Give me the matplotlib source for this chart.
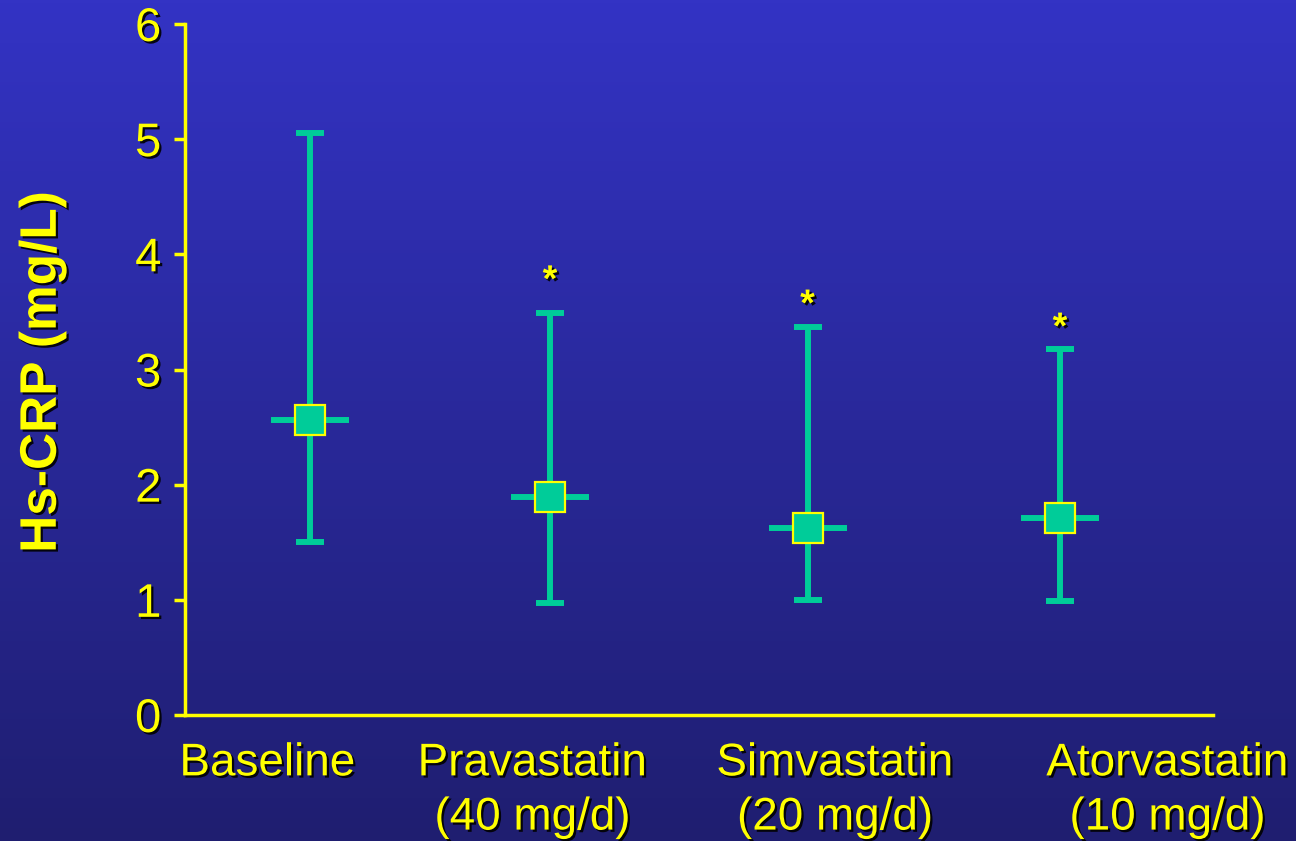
import matplotlib
matplotlib.use('Agg')
import matplotlib.pyplot as plt
import matplotlib.patheffects as pe
import numpy as np

# Hs-CRP (mg/L) per treatment: median with lower / upper range
groups = ['Baseline', 'Pravastatin', 'Simvastatin', 'Atorvastatin']
tick_labels = ['Baseline', 'Pravastatin\n(40 mg/d)', 'Simvastatin\n(20 mg/d)', 'Atorvastatin\n(10 mg/d)']
median = [2.56, 1.89, 1.62, 1.71]
lower = [1.50, 0.97, 1.00, 0.99]
upper = [5.05, 3.49, 3.37, 3.18]
signif = [False, True, True, True]
star_y = [0.0, 3.85, 3.64, 3.44]

xpos = [1.0, 1.96, 2.99, 4.0]
label_pos = [0.83, 1.89, 3.1, 4.43]

yellow = '#ffff00'
green = '#00cc99'
shadow = [pe.withSimplePatchShadow(offset=(1.6, -1.6), shadow_rgbFace='black', alpha=0.9)]

plt.rcParams['font.family'] = ['Liberation Sans', 'DejaVu Sans']

fig = plt.figure(figsize=(12.96, 8.41), dpi=100)

# gradient background
bg = fig.add_axes([0, 0, 1, 1], zorder=0)
top = np.array([51, 51, 196]) / 255
bot = np.array([31, 30, 112]) / 255
t = np.linspace(0, 1, 256)[:, None]
grad = top[None, :] * (1 - t) + bot[None, :] * t
bg.imshow(grad[:, None, :], aspect='auto', extent=[0, 1, 0, 1])
bg.axis('off')

ax = fig.add_axes([185 / 1296, 1 - 715 / 841, 1028 / 1296, 691 / 841], zorder=1)
ax.set_facecolor('none')

err = [np.array(median) - np.array(lower), np.array(upper) - np.array(median)]
ax.errorbar(xpos, median, yerr=err, fmt='none', ecolor=green, elinewidth=4.3,
            capsize=10, capthick=4.3, zorder=3)
ax.plot(xpos, median, ls='none', marker='_', markersize=56, mew=4.3, color=green, zorder=4)
ax.plot(xpos, median, ls='none', marker='s', markersize=21, mfc=green, mec=yellow, mew=1.6, zorder=5)

for x, y, s in zip(xpos, star_y, signif):
    if s:
        ax.text(x, y - 0.17, '*', fontsize=27, fontweight='bold', color=yellow, ha='center',
                va='baseline', path_effects=shadow)

ax.set_xlim(0.5, 4.612)
ax.set_ylim(0, 6)
ax.set_yticks(range(0, 7))
ax.set_xticks(label_pos)
ax.set_xticklabels(tick_labels, linespacing=1.3)

for side in ['top', 'right']:
    ax.spines[side].set_visible(False)
for side in ['left', 'bottom']:
    ax.spines[side].set_color(yellow)
    ax.spines[side].set_linewidth(2.5)

ax.tick_params(axis='y', direction='out', length=8, width=2.5, color=yellow,
               labelcolor=yellow, labelsize=34, pad=9)
ax.tick_params(axis='x', length=0, labelcolor=yellow, labelsize=33, pad=19)
for lab in ax.get_xticklabels() + ax.get_yticklabels():
    lab.set_path_effects(shadow)

ax.set_ylabel('Hs-CRP (mg/L)', fontsize=37, fontweight='bold', color=yellow,
              path_effects=shadow)
ax.yaxis.set_label_coords(-0.115, 0.496)

fig.savefig('out.png', dpi=100)
